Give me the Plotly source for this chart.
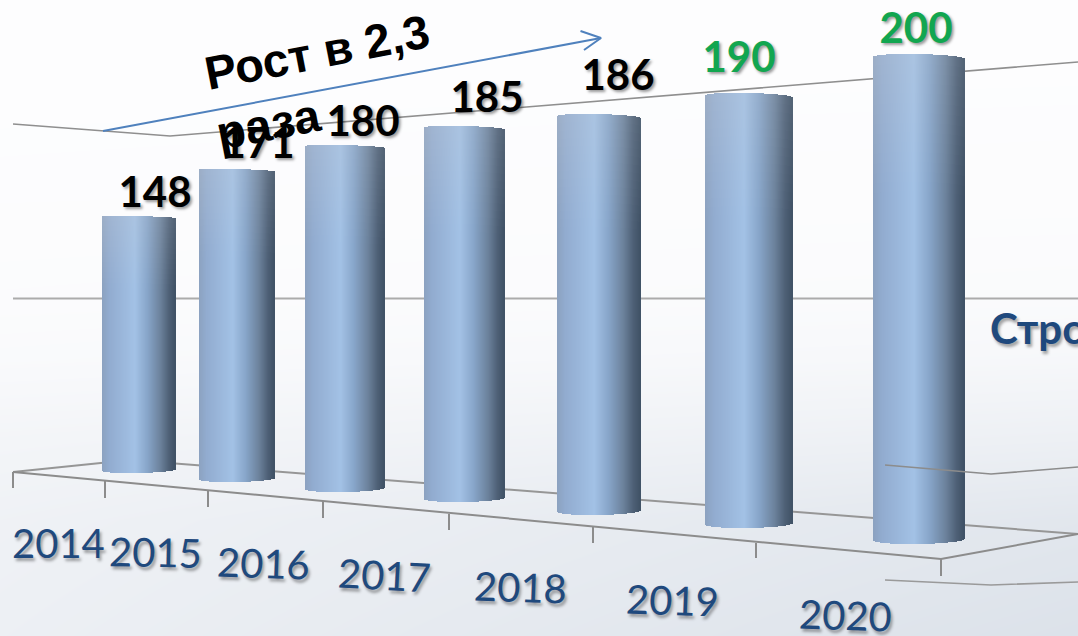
import math
import plotly.graph_objects as go

W, H = 1078, 636

# ---- data ----
years = ["2014", "2015", "2016", "2017", "2018", "2019", "2020"]
values = [148, 171, 180, 185, 186, 190, 200]
value_colors = ["#000000"] * 5 + ["#12a650", "#12a650"]

# ---- perspective of the picture, per category ----
bar_left = [103, 200, 306, 425, 558, 706, 874]
bar_right = [176, 275, 385, 505, 641, 793, 965]
floor_row = [473, 482, 492, 502, 515, 528, 544]
px_per_unit = [1.743, 1.836, 1.933, 2.038, 2.161, 2.295, 2.455]

label_x = [155, 258, 363, 487, 618, 739, 916]
label_row = [196, 147, 125, 101, 79, 61, 32]
year_x = [58, 155, 263, 384, 520, 672, 845]
year_row = [543, 552, 563, 575, 587, 600, 615]
year_angle = [0, 1, 2, 3, 2, 2, 2]

shade_pos = [0.0, 0.10, 0.45, 0.62, 0.80, 0.92, 1.0]
shade_rgb = [(140, 162, 192), (146, 172, 208), (163, 194, 230), (136, 166, 202),
             (108, 130, 156), (78, 96, 118), (64, 82, 102)]
sheen_rgb = (195, 202, 212)
sheen_bands = 14
sheen_share = 0.28
sheen_strength = 0.30


def up(row):
    return H - row


def shade(t, sheen=0.0):
    c = shade_rgb[-1]
    for i in range(len(shade_pos) - 1):
        if t <= shade_pos[i + 1]:
            f = (t - shade_pos[i]) / (shade_pos[i + 1] - shade_pos[i])
            c = [shade_rgb[i][k] + f * (shade_rgb[i + 1][k] - shade_rgb[i][k]) for k in range(3)]
            break
    a = sheen * (1 - 0.5 * t)
    return "rgb(%d,%d,%d)" % tuple(c[k] + a * (sheen_rgb[k] - c[k]) for k in range(3))


fig = go.Figure()

# background
bg_rows = [0, 200, 300, 360, 440, 520, 636]
bg_left = [0.0, 0.02, 0.05, 0.10, 0.25, 0.36, 0.42]
bg_right = [0.0, 0.03, 0.08, 0.18, 0.42, 0.70, 0.85]
fig.add_trace(go.Heatmap(
    x=[0, W], y=[up(r) for r in bg_rows],
    z=[[a, b] for a, b in zip(bg_left, bg_right)],
    zmin=0, zmax=1, zsmooth="best", showscale=False, hoverinfo="skip",
    colorscale=[[0, "#fdfdfe"], [1, "#d6dde6"]],
))


def line(xs, rows, color="#8c8c8c", width=2, front=False):
    fig.add_trace(go.Scatter(x=xs, y=[up(r) for r in rows], mode="lines",
                             line=dict(color=color, width=width),
                             xaxis="x2" if front else "x", yaxis="y2" if front else "y",
                             hoverinfo="skip", showlegend=False))


# walls and floor behind the cylinders
line([13, 103, 170, 1078], [124, 131, 136, 62], "#8f8f8f", 1.6)
line([13, 1078], [298.5, 298.5], "#ababab", 2)
line([13, 130, 1078], [472, 460, 534], "#969696", 2)
line([13, 941, 1078], [472, 559, 534], "#8c8c8c", 2)

tick_x = [13, 105, 208, 323, 449, 593, 756, 941]
tick_top = [472, 481, 491, 501, 514, 527, 543, 559]
tick_bot = [488, 498, 507, 518, 530, 543, 558, 576]
for x, a, b in zip(tick_x, tick_top, tick_bot):
    line([x, x], [a, b], "#8c8c8c", 2)

# cylinders: one bar per pixel column, using the value through its scale
for i in range(len(years)):
    L, R = bar_left[i], bar_right[i]
    n = R - L
    ts = [(k + 0.5) / n for k in range(n)]
    xs, heights, bases, tops = [], [], [], []
    cap = 1 + 0.5 * i
    for k, t in enumerate(ts):
        arc = 1 - math.sqrt(max(0, 1 - (2 * t - 1) ** 2))
        bot = up(floor_row[i]) + (3 + 0.25 * i) * arc + 1.5 * (t - 0.5)
        top = up(floor_row[i]) + values[i] * px_per_unit[i] - cap * arc - 2 * t
        xs.append(L + k + 0.5)
        bases.append(bot)
        tops.append(top)
        heights.append(top - bot)
    fig.add_trace(go.Bar(x=xs, y=heights, base=bases, width=1.02,
                         marker=dict(color=[shade(t) for t in ts], line=dict(width=0)),
                         xaxis="x2", yaxis="y2",
                         name=years[i], hoverinfo="skip", showlegend=False))
    # paler, greyer sheen towards the top: nested opaque layers, deepest first
    full = values[i] * px_per_unit[i]
    for b in range(sheen_bands, 0, -1):
        depth = full * sheen_share * b / sheen_bands
        strength = sheen_strength * (1 - (b - 0.5) / sheen_bands)
        fig.add_trace(go.Bar(x=xs, y=[depth] * n, base=[tp - depth for tp in tops], width=1.02,
                             marker=dict(color=[shade(t, strength) for t in ts], line=dict(width=0)),
                             xaxis="x2", yaxis="y2", hoverinfo="skip", showlegend=False))

# lines in front of the last cylinder
line([885, 991, 1078], [465, 474, 467], "#8c8c8c", 1.6, True)
line([885, 991, 1078], [580, 585, 582], "#9a9a9a", 1.6, True)

# arrow
line([103, 601], [131, 38], "#4f81bd", 2, True)
line([580.5, 601, 584], [31, 38, 50], "#4f81bd", 2, True)

# value labels
fig.add_trace(go.Scatter(
    x=label_x, y=[up(r) for r in label_row], mode="text",
    text=[str(v) for v in values], textposition="middle center",
    xaxis="x2", yaxis="y2",
    textfont=dict(family="Lato, 'Noto Sans', sans-serif", size=42, weight="bold",
                  color=value_colors, shadow="2px 2px 3px rgba(0,0,0,0.4)"),
    hoverinfo="skip", showlegend=False,
))

annotations = []
for y, x, r, a in zip(years, year_x, year_row, year_angle):
    annotations.append(dict(
        x=x, y=up(r), text=y, showarrow=False, textangle=a,
        xanchor="center", yanchor="middle",
        font=dict(family="Lato, 'Noto Sans', sans-serif", size=40, color="#1f497d",
                  shadow="2px 3px 3px rgba(0,0,0,0.35)"),
    ))
annotations.append(dict(
    x=323, y=up(82), text="Рост в 2,3<br>раза", showarrow=False, textangle=-11,
    align="left", xanchor="center", yanchor="middle",
    font=dict(family="'Liberation Sans', Arial, sans-serif", size=47, weight="bold", color="#000000"),
))
annotations.append(dict(
    x=988, y=up(328), text="Стро", showarrow=False, xanchor="left", yanchor="middle",
    font=dict(family="Lato, 'Noto Sans', sans-serif", size=42, weight="bold", color="#1f497d",
              shadow="2px 3px 3px rgba(0,0,0,0.35)"),
))

axis = dict(visible=False, fixedrange=True)
fig.update_layout(
    width=W, height=H, margin=dict(l=0, r=0, t=0, b=0),
    barmode="overlay", bargap=0, showlegend=False,
    paper_bgcolor="#ffffff", plot_bgcolor="#ffffff",
    xaxis=dict(range=[0, W], **axis),
    yaxis=dict(range=[0, H], **axis),
    xaxis2=dict(range=[0, W], overlaying="x", **axis),
    yaxis2=dict(range=[0, H], overlaying="y", **axis),
    annotations=annotations,
)

fig.write_html("out.html", config={"displayModeBar": False},
               post_script="document.body.style.margin='0';document.body.style.overflow='hidden';")
